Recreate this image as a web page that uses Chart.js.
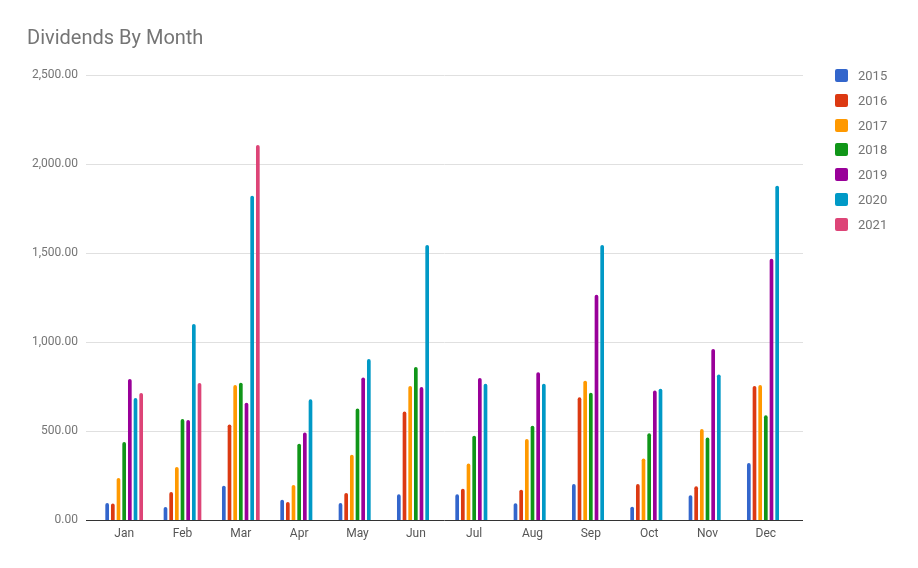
<!DOCTYPE html>
<html>
<head>
<meta charset="utf-8">
<title>Dividends By Month</title>
<script src="https://cdn.jsdelivr.net/npm/chart.js@4.4.0/dist/chart.umd.min.js"></script>
<style>
    body { margin: 0; background: #fff; font-family: Roboto, Arial, sans-serif; }
    #wrap { position: relative; width: 918px; height: 568px; }
    #legend { position: absolute; left: 835px; top: 69px; }
    .item { height: 24.8px; display: flex; align-items: flex-start; font-size: 13px; color: #757575; }
    .box { width: 13px; height: 13px; border-radius: 2px; margin-right: 10px; }
    .item span { line-height: 14px; }
</style>
</head>
<body>
<div id="wrap">
    <canvas id="chart"></canvas>
    <div id="legend"></div>
</div>
<script>
// =====================
// DATA
// =====================
const months = ["Jan", "Feb", "Mar", "Apr", "May", "Jun", "Jul", "Aug", "Sep", "Oct", "Nov", "Dec"];
const years = ["2015", "2016", "2017", "2018", "2019", "2020", "2021"];
const colors = ["#3366cc", "#dc3912", "#ff9900", "#109618", "#990099", "#0099c6", "#dd4477"];

const y2015 = [95, 73, 193, 114, 95, 144, 144, 94, 202, 75, 139, 320];
const y2016 = [93, 157, 537, 101, 152, 609, 176, 170, 689, 202, 189, 753];
const y2017 = [236, 298, 758, 197, 367, 753, 317, 455, 783, 346, 511, 758];
const y2018 = [438, 567, 771, 429, 627, 860, 474, 530, 715, 487, 463, 588];
const y2019 = [792, 562, 659, 492, 801, 747, 798, 830, 1266, 727, 961, 1468];
const y2020 = [685, 1101, 1822, 678, 904, 1545, 766, 766, 1545, 738, 818, 1878];
const y2021 = [714, 770, 2107, null, null, null, null, null, null, null, null, null];

const series = [y2015, y2016, y2017, y2018, y2019, y2020, y2021];

const yTicks = [0, 500, 1000, 1500, 2000, 2500];

// =====================
// GRID + BASELINE (wider than the bar area, like the original)
// =====================
const gridPlugin = {
    id: "wideGrid",
    beforeDatasetsDraw(chart) {
        const ctx = chart.ctx;
        const y = chart.scales.y;
        ctx.save();
        ctx.strokeStyle = "#e0e0e0";
        ctx.lineWidth = 1;
        yTicks.forEach(v => {
            if (v === 0) return;
            const py = Math.round(y.getPixelForValue(v)) + 0.5;
            ctx.beginPath();
            ctx.moveTo(86, py);
            ctx.lineTo(803, py);
            ctx.stroke();
        });
        ctx.restore();
    },
    afterDatasetsDraw(chart) {
        const ctx = chart.ctx;
        const py = Math.round(chart.scales.y.getPixelForValue(0)) + 0.5;
        ctx.save();
        ctx.strokeStyle = "#333";
        ctx.lineWidth = 1;
        ctx.beginPath();
        ctx.moveTo(86, py);
        ctx.lineTo(803, py);
        ctx.stroke();
        ctx.restore();
    }
};

// =====================
// CHART
// =====================
const ctx = document.getElementById("chart");
new Chart(ctx, {
    type: "bar",
    data: {
        labels: months,
        datasets: years.map((yr, i) => ({
            label: yr,
            data: series[i],
            backgroundColor: colors[i],
            borderRadius: 2,
            categoryPercentage: 0.68,
            barPercentage: 0.65
        }))
    },
    options: {
        responsive: true,
        maintainAspectRatio: false,
        animation: false,
        layout: { padding: { left: 27, right: 123, top: 0, bottom: 20 } },
        plugins: {
            legend: { display: false },
            tooltip: { enabled: false },
            title: {
                display: true,
                text: "Dividends By Month",
                align: "start",
                color: "#757575",
                font: { family: "Roboto", size: 20, weight: "normal", lineHeight: 1.2 },
                padding: { top: 27, bottom: 24 }
            }
        },
        scales: {
            x: {
                grid: { display: false, drawTicks: false },
                border: { display: false },
                ticks: {
                    color: "#555",
                    font: { family: "Roboto", size: 12 },
                    padding: 7,
                    maxRotation: 0
                },
                afterFit(axis) { axis.height = 28; }
            },
            y: {
                min: 0,
                max: 2500,
                grid: { display: false, drawTicks: false },
                border: { display: false },
                ticks: {
                    stepSize: 500,
                    color: "#757575",
                    font: { family: "Roboto", size: 12 },
                    padding: 17,
                    callback: v => v.toLocaleString("en-US", { minimumFractionDigits: 2, maximumFractionDigits: 2 })
                },
                afterFit(axis) { axis.width = 68; }
            }
        }
    },
    plugins: [gridPlugin]
});

// =====================
// LEGEND
// =====================
const legend = document.getElementById("legend");
years.forEach((yr, i) => {
    const div = document.createElement("div");
    div.className = "item";
    div.innerHTML = `<div class="box" style="background:${colors[i]}"></div><span>${yr}</span>`;
    legend.appendChild(div);
});
</script>
</body>
</html>
